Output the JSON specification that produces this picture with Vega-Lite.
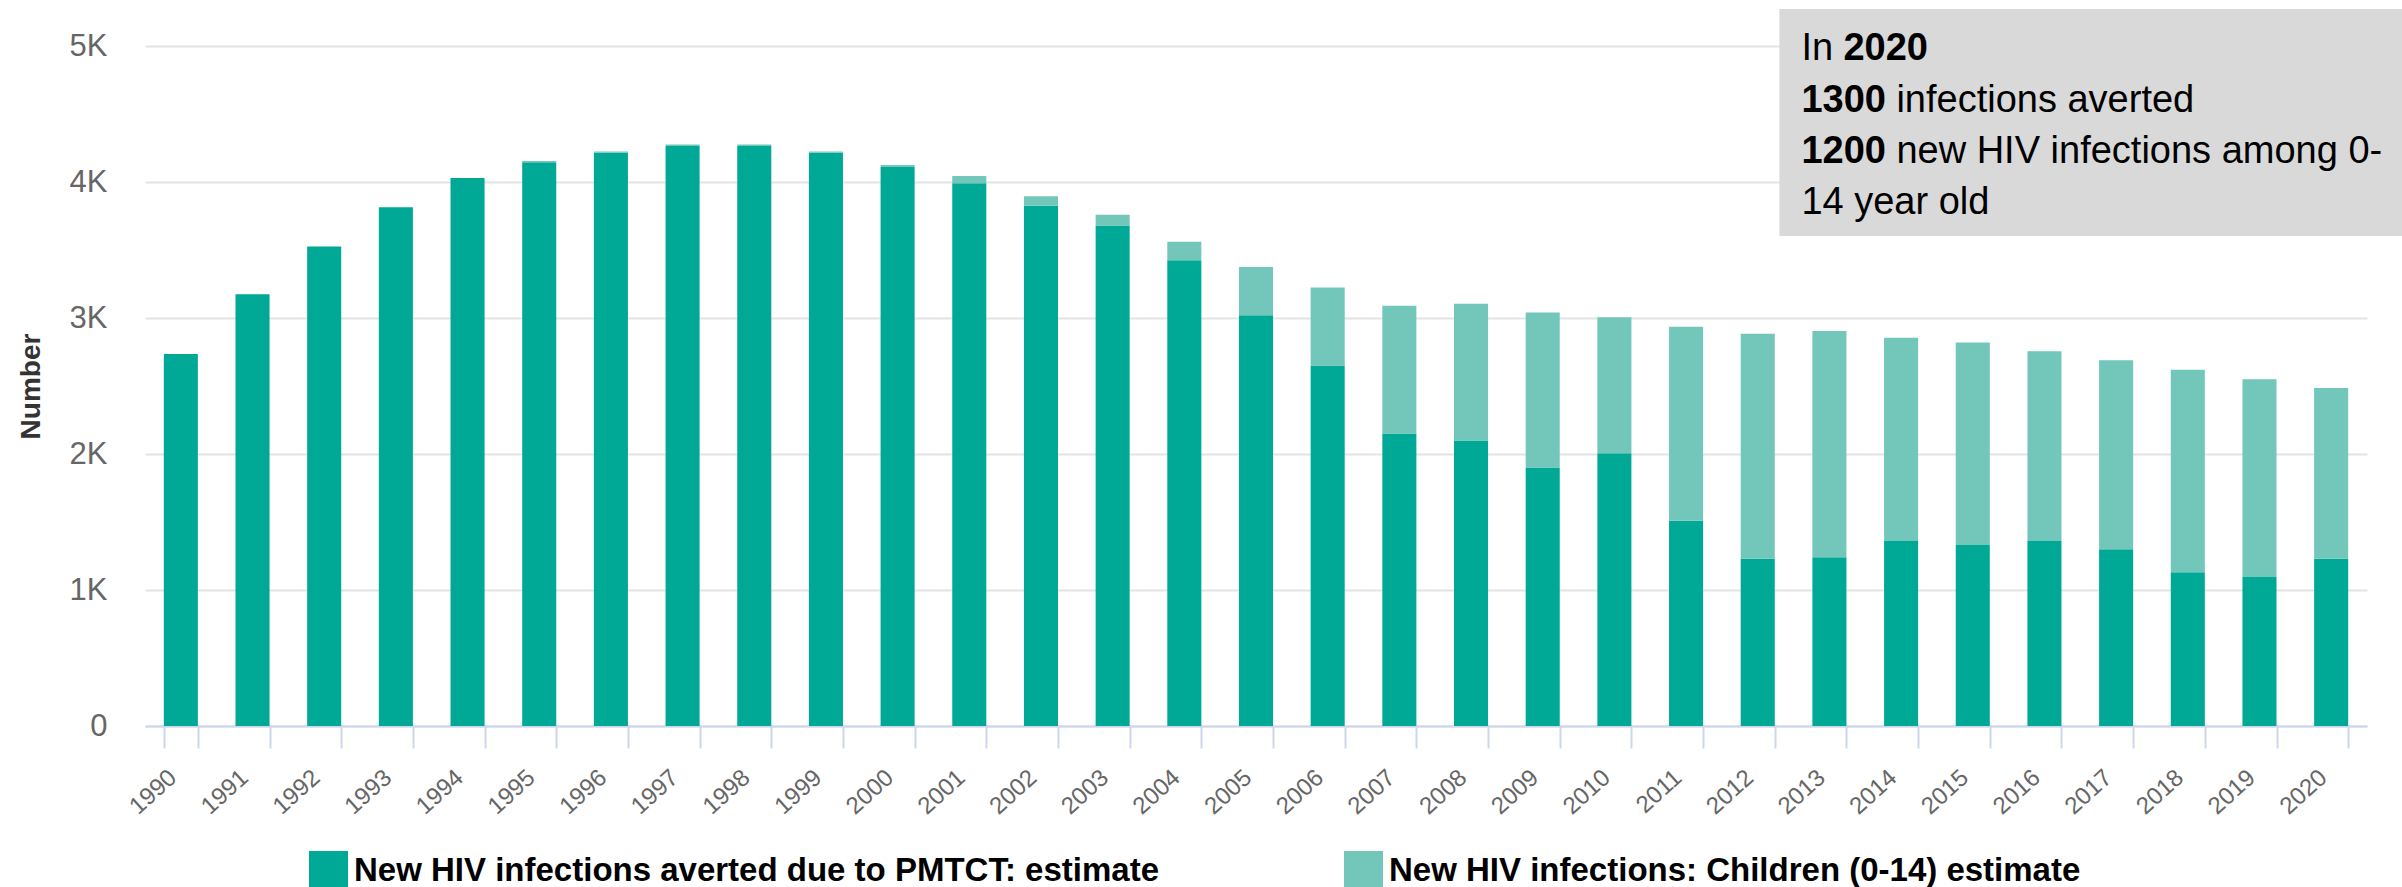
{
  "$schema": "https://vega.github.io/schema/vega-lite/v6.json",
  "width": 2222,
  "height": 680,
  "autosize": {"type": "none"},
  "padding": {"left": 145, "top": 46, "right": 35, "bottom": 161},
  "background": "white",
  "config": {"view": {"stroke": null}, "font": "Liberation Sans"},
  "datasets": {
    "hiv": [
      {"year": "1990", "series": "New HIV infections averted due to PMTCT: estimate", "value": 2735},
      {"year": "1990", "series": "New HIV infections: Children (0-14) estimate", "value": 0},
      {"year": "1991", "series": "New HIV infections averted due to PMTCT: estimate", "value": 3175},
      {"year": "1991", "series": "New HIV infections: Children (0-14) estimate", "value": 0},
      {"year": "1992", "series": "New HIV infections averted due to PMTCT: estimate", "value": 3525},
      {"year": "1992", "series": "New HIV infections: Children (0-14) estimate", "value": 0},
      {"year": "1993", "series": "New HIV infections averted due to PMTCT: estimate", "value": 3815},
      {"year": "1993", "series": "New HIV infections: Children (0-14) estimate", "value": 0},
      {"year": "1994", "series": "New HIV infections averted due to PMTCT: estimate", "value": 4030},
      {"year": "1994", "series": "New HIV infections: Children (0-14) estimate", "value": 0},
      {"year": "1995", "series": "New HIV infections averted due to PMTCT: estimate", "value": 4145},
      {"year": "1995", "series": "New HIV infections: Children (0-14) estimate", "value": 10},
      {"year": "1996", "series": "New HIV infections averted due to PMTCT: estimate", "value": 4215},
      {"year": "1996", "series": "New HIV infections: Children (0-14) estimate", "value": 10},
      {"year": "1997", "series": "New HIV infections averted due to PMTCT: estimate", "value": 4265},
      {"year": "1997", "series": "New HIV infections: Children (0-14) estimate", "value": 10},
      {"year": "1998", "series": "New HIV infections averted due to PMTCT: estimate", "value": 4265},
      {"year": "1998", "series": "New HIV infections: Children (0-14) estimate", "value": 10},
      {"year": "1999", "series": "New HIV infections averted due to PMTCT: estimate", "value": 4215},
      {"year": "1999", "series": "New HIV infections: Children (0-14) estimate", "value": 10},
      {"year": "2000", "series": "New HIV infections averted due to PMTCT: estimate", "value": 4110},
      {"year": "2000", "series": "New HIV infections: Children (0-14) estimate", "value": 15},
      {"year": "2001", "series": "New HIV infections averted due to PMTCT: estimate", "value": 3990},
      {"year": "2001", "series": "New HIV infections: Children (0-14) estimate", "value": 55},
      {"year": "2002", "series": "New HIV infections averted due to PMTCT: estimate", "value": 3825},
      {"year": "2002", "series": "New HIV infections: Children (0-14) estimate", "value": 70},
      {"year": "2003", "series": "New HIV infections averted due to PMTCT: estimate", "value": 3680},
      {"year": "2003", "series": "New HIV infections: Children (0-14) estimate", "value": 80},
      {"year": "2004", "series": "New HIV infections averted due to PMTCT: estimate", "value": 3425},
      {"year": "2004", "series": "New HIV infections: Children (0-14) estimate", "value": 135},
      {"year": "2005", "series": "New HIV infections averted due to PMTCT: estimate", "value": 3020},
      {"year": "2005", "series": "New HIV infections: Children (0-14) estimate", "value": 355},
      {"year": "2006", "series": "New HIV infections averted due to PMTCT: estimate", "value": 2650},
      {"year": "2006", "series": "New HIV infections: Children (0-14) estimate", "value": 575},
      {"year": "2007", "series": "New HIV infections averted due to PMTCT: estimate", "value": 2150},
      {"year": "2007", "series": "New HIV infections: Children (0-14) estimate", "value": 940},
      {"year": "2008", "series": "New HIV infections averted due to PMTCT: estimate", "value": 2100},
      {"year": "2008", "series": "New HIV infections: Children (0-14) estimate", "value": 1005},
      {"year": "2009", "series": "New HIV infections averted due to PMTCT: estimate", "value": 1900},
      {"year": "2009", "series": "New HIV infections: Children (0-14) estimate", "value": 1140},
      {"year": "2010", "series": "New HIV infections averted due to PMTCT: estimate", "value": 2005},
      {"year": "2010", "series": "New HIV infections: Children (0-14) estimate", "value": 1000},
      {"year": "2011", "series": "New HIV infections averted due to PMTCT: estimate", "value": 1510},
      {"year": "2011", "series": "New HIV infections: Children (0-14) estimate", "value": 1425},
      {"year": "2012", "series": "New HIV infections averted due to PMTCT: estimate", "value": 1230},
      {"year": "2012", "series": "New HIV infections: Children (0-14) estimate", "value": 1655},
      {"year": "2013", "series": "New HIV infections averted due to PMTCT: estimate", "value": 1240},
      {"year": "2013", "series": "New HIV infections: Children (0-14) estimate", "value": 1665},
      {"year": "2014", "series": "New HIV infections averted due to PMTCT: estimate", "value": 1360},
      {"year": "2014", "series": "New HIV infections: Children (0-14) estimate", "value": 1495},
      {"year": "2015", "series": "New HIV infections averted due to PMTCT: estimate", "value": 1330},
      {"year": "2015", "series": "New HIV infections: Children (0-14) estimate", "value": 1490},
      {"year": "2016", "series": "New HIV infections averted due to PMTCT: estimate", "value": 1360},
      {"year": "2016", "series": "New HIV infections: Children (0-14) estimate", "value": 1395},
      {"year": "2017", "series": "New HIV infections averted due to PMTCT: estimate", "value": 1300},
      {"year": "2017", "series": "New HIV infections: Children (0-14) estimate", "value": 1390},
      {"year": "2018", "series": "New HIV infections averted due to PMTCT: estimate", "value": 1130},
      {"year": "2018", "series": "New HIV infections: Children (0-14) estimate", "value": 1490},
      {"year": "2019", "series": "New HIV infections averted due to PMTCT: estimate", "value": 1095},
      {"year": "2019", "series": "New HIV infections: Children (0-14) estimate", "value": 1455},
      {"year": "2020", "series": "New HIV infections averted due to PMTCT: estimate", "value": 1230},
      {"year": "2020", "series": "New HIV infections: Children (0-14) estimate", "value": 1255}
    ]
  },
  "layer": [
    {
      "data": {"name": "hiv"},
      "mark": {"type": "bar"},
      "encoding": {
        "x": {
          "field": "year",
          "type": "ordinal",
          "scale": {"paddingInner": 0.525, "paddingOuter": 0.2625},
          "axis": {
            "title": null,
            "labelAngle": -42,
            "labelAlign": "right",
            "labelBaseline": "middle",
            "labelFontSize": 24,
            "labelColor": "#666666",
            "labelFont": "Liberation Sans",
            "labelPadding": 26,
            "labelOffset": -8,
            "labelOverlap": false,
            "tickBand": "extent",
            "tickSize": 22,
            "tickColor": "#ccd6eb",
            "tickWidth": 2,
            "domainColor": "#ccd6eb",
            "domainWidth": 2,
            "grid": false
          }
        },
        "y": {
          "field": "value",
          "type": "quantitative",
          "stack": "zero",
          "scale": {"domain": [0, 5000], "nice": false},
          "axis": {
            "title": "Number",
            "values": [0, 1000, 2000, 3000, 4000, 5000],
            "labelExpr": "datum.value == 0 ? '0' : (datum.value / 1000) + 'K'",
            "grid": true,
            "gridColor": "#e3e3e3",
            "gridWidth": 2,
            "domain": false,
            "ticks": false,
            "labelPadding": 38,
            "labelFontSize": 31,
            "labelColor": "#666666",
            "labelFont": "Liberation Sans",
            "titleFont": "Liberation Sans",
            "titleFontSize": 28,
            "titleFontWeight": "bold",
            "titleColor": "#333333",
            "titlePadding": 24
          }
        },
        "color": {
          "field": "series",
          "type": "nominal",
          "scale": {
            "domain": ["New HIV infections averted due to PMTCT: estimate", "New HIV infections: Children (0-14) estimate"],
            "range": ["#00a896", "#72c6ba"]
          },
          "legend": {
            "orient": "none",
            "legendX": 164,
            "legendY": 805,
            "direction": "horizontal",
            "columns": 2,
            "columnPadding": 185,
            "title": null,
            "padding": 0,
            "symbolType": "square",
            "symbolSize": 1521,
            "symbolStrokeWidth": 0,
            "symbolOpacity": 1,
            "labelFont": "Liberation Sans",
            "labelFontWeight": "bold",
            "labelFontSize": 33,
            "labelColor": "#000000",
            "labelOffset": 6,
            "labelLimit": 0
          }
        },
        "order": {"field": "series", "sort": "ascending"}
      }
    },
    {
      "data": {"values": [{}]},
      "mark": {"type": "rect", "color": "#d9d9d9", "xOffset": -33, "x2Offset": 35},
      "encoding": {
        "x": {"datum": "2013", "type": "ordinal", "bandPosition": 0},
        "x2": {"value": "width"},
        "y": {"datum": 5272, "type": "quantitative"},
        "y2": {"datum": 3603}
      }
    },
    {
      "data": {"values": [{}]},
      "mark": {"type": "text", "text": "In", "align": "left", "baseline": "alphabetic", "font": "Liberation Sans", "fontSize": 38, "color": "#000000", "dx": -11},
      "encoding": {
        "x": {"datum": "2013", "type": "ordinal", "bandPosition": 0},
        "y": {"datum": 4897, "type": "quantitative"}
      }
    },
    {
      "data": {"values": [{}]},
      "mark": {"type": "text", "text": "2020", "align": "left", "baseline": "alphabetic", "font": "Liberation Sans", "fontWeight": "bold", "fontSize": 38, "color": "#000000", "dx": 31},
      "encoding": {
        "x": {"datum": "2013", "type": "ordinal", "bandPosition": 0},
        "y": {"datum": 4897, "type": "quantitative"}
      }
    },
    {
      "data": {"values": [{}]},
      "mark": {"type": "text", "text": "1300", "align": "left", "baseline": "alphabetic", "font": "Liberation Sans", "fontWeight": "bold", "fontSize": 38, "color": "#000000", "dx": -11},
      "encoding": {
        "x": {"datum": "2013", "type": "ordinal", "bandPosition": 0},
        "y": {"datum": 4515, "type": "quantitative"}
      }
    },
    {
      "data": {"values": [{}]},
      "mark": {"type": "text", "text": "infections averted", "align": "left", "baseline": "alphabetic", "font": "Liberation Sans", "fontSize": 38, "color": "#000000", "dx": 84},
      "encoding": {
        "x": {"datum": "2013", "type": "ordinal", "bandPosition": 0},
        "y": {"datum": 4515, "type": "quantitative"}
      }
    },
    {
      "data": {"values": [{}]},
      "mark": {"type": "text", "text": "1200", "align": "left", "baseline": "alphabetic", "font": "Liberation Sans", "fontWeight": "bold", "fontSize": 38, "color": "#000000", "dx": -11},
      "encoding": {
        "x": {"datum": "2013", "type": "ordinal", "bandPosition": 0},
        "y": {"datum": 4140, "type": "quantitative"}
      }
    },
    {
      "data": {"values": [{}]},
      "mark": {"type": "text", "text": "new HIV infections among 0-", "align": "left", "baseline": "alphabetic", "font": "Liberation Sans", "fontSize": 38, "color": "#000000", "dx": 84},
      "encoding": {
        "x": {"datum": "2013", "type": "ordinal", "bandPosition": 0},
        "y": {"datum": 4140, "type": "quantitative"}
      }
    },
    {
      "data": {"values": [{}]},
      "mark": {"type": "text", "text": "14 year old", "align": "left", "baseline": "alphabetic", "font": "Liberation Sans", "fontSize": 38, "color": "#000000", "dx": -11},
      "encoding": {
        "x": {"datum": "2013", "type": "ordinal", "bandPosition": 0},
        "y": {"datum": 3765, "type": "quantitative"}
      }
    }
  ]
}
